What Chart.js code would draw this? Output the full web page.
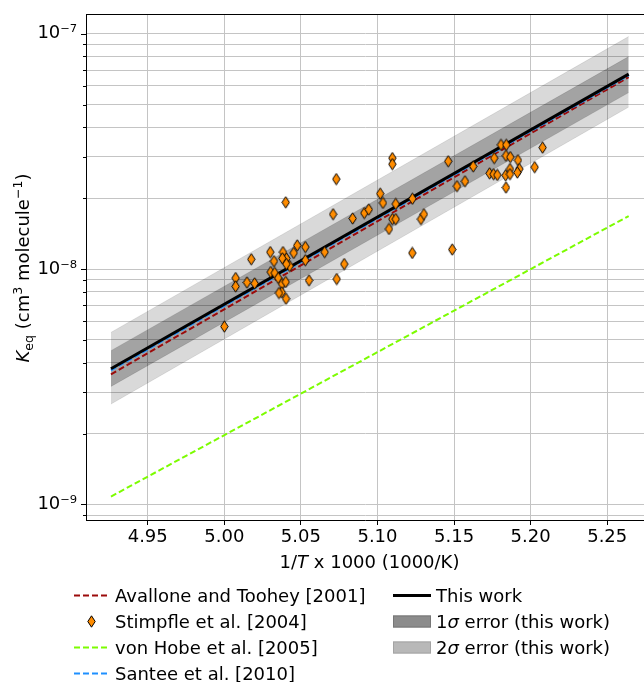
<!DOCTYPE html>
<html><head><meta charset="utf-8">
<script src="https://cdn.jsdelivr.net/npm/chart.js@4.4.1/dist/chart.umd.min.js"></script>
<style>html,body{margin:0;padding:0;background:#fff;}#wrap{width:644px;height:682px;position:relative;}</style>
</head><body><div id="wrap"><canvas id="c" width="644" height="682"></canvas></div>
<script>
// ---- data ----
const X_TICKS = [4.95, 5.00, 5.05, 5.10, 5.15, 5.20, 5.25];
const Y_TICKS = [9e-10, 1e-9, 2e-9, 3e-9, 4e-9, 5e-9, 6e-9, 7e-9, 8e-9, 9e-9,
                 1e-8, 2e-8, 3e-8, 4e-8, 5e-8, 6e-8, 7e-8, 8e-8, 9e-8, 1e-7];
const X_RANGE = [4.9097, 5.2740];
const Y_RANGE = [8.586e-10, 1.2121e-7];

const FIT_X = [4.926, 5.264];            // 1000/203 K ... 1000/190 K
const THIS_WORK    = [3.77e-9, 6.73e-8];
const SIGMA1_UPPER = [4.50e-9, 7.99e-8];
const SIGMA1_LOWER = [3.17e-9, 5.62e-8];
const SIGMA2_UPPER = [5.38e-9, 9.72e-8];
const SIGMA2_LOWER = [2.67e-9, 4.88e-8];
const AVALLONE     = [3.57e-9, 6.54e-8];
const SANTEE       = [3.71e-9, 6.65e-8];
const VON_HOBE     = [1.08e-9, 1.68e-8];

const STIMPFLE_X = [5.1097, 5.1097, 5.0731, 5.0401, 5.1018, 5.1036, 5.1119, 5.1228, 5.0710, 5.0838,
  5.0914, 5.0943, 5.1097, 5.1119, 5.1075, 5.1284, 5.1227, 5.0655, 5.0783, 5.0734,
  5.0553, 5.0529, 5.0529, 5.0476, 5.0453, 5.0427, 5.0405, 5.0383, 5.0379, 5.0405,
  5.0300, 5.0324, 5.0303, 5.0329, 5.0352, 5.0377, 5.0401, 5.0375, 5.0357, 5.0403,
  5.0176, 5.0198, 5.0148, 5.0074, 5.0074, 5.0000,
  5.1806, 5.1841, 5.2078, 5.1462, 5.1762, 5.1839, 5.1867, 5.1917, 5.1625, 5.1865,
  5.1926, 5.1913, 5.1732, 5.1758, 5.1782, 5.1837, 5.1865, 5.2026, 5.1839, 5.1571,
  5.1519, 5.1303, 5.1488];
const STIMPFLE_Y = [2.96e-8, 2.79e-8, 2.41e-8, 1.92e-8, 2.09e-8, 1.91e-8, 1.89e-8, 1.99e-8, 1.71e-8, 1.64e-8,
  1.73e-8, 1.79e-8, 1.63e-8, 1.63e-8, 1.48e-8, 1.63e-8, 1.17e-8, 1.18e-8, 1.05e-8, 9.07e-9,
  8.95e-9, 1.24e-8, 1.09e-8, 1.26e-8, 1.17e-8, 1.03e-8, 1.11e-8, 1.18e-8, 1.11e-8, 1.05e-8,
  1.18e-8, 1.08e-8, 9.71e-9, 9.62e-9, 9.16e-9, 8.64e-9, 8.81e-9, 7.96e-9, 7.91e-9, 7.48e-9,
  1.10e-8, 8.69e-9, 8.77e-9, 9.16e-9, 8.44e-9, 5.70e-9,
  3.37e-8, 3.37e-8, 3.28e-8, 2.87e-8, 2.96e-8, 3.03e-8, 2.99e-8, 2.90e-8, 2.73e-8, 2.66e-8,
  2.66e-8, 2.57e-8, 2.55e-8, 2.53e-8, 2.51e-8, 2.50e-8, 2.53e-8, 2.71e-8, 2.22e-8, 2.36e-8,
  2.25e-8, 1.71e-8, 1.21e-8];

const LEGEND_LEFT = ['Avallone and Toohey [2001]', 'Stimpfle et al. [2004]', 'von Hobe et al. [2005]', 'Santee et al. [2010]'];

// ---- helpers ----
const FONT = 'DejaVu Sans';
const FS = 18;
const pts = (xs, ys) => xs.map((x, i) => ({x: x, y: ys[i]}));
const isDecade = v => Math.abs(Math.log10(v) - Math.round(Math.log10(v))) < 1e-6;
const SUP = {'0':'⁰','1':'¹','2':'²','3':'³','4':'⁴','5':'⁵','6':'⁶','7':'⁷','8':'⁸','9':'⁹','-':'⁻'};
const supStr = s => s.split('').map(ch => SUP[ch] || ch).join('');

const diamond = (() => {
  const c = document.createElement('canvas'); c.width = 9; c.height = 13;
  const g = c.getContext('2d');
  g.beginPath(); g.moveTo(4.5, 0.8); g.lineTo(8.2, 6.5); g.lineTo(4.5, 12.2); g.lineTo(0.8, 6.5); g.closePath();
  g.fillStyle = '#ff8c00'; g.fill(); g.lineWidth = 1; g.strokeStyle = '#000'; g.stroke();
  return c;
})();

function drawRuns(ctx, runs, x, y, align) {
  let total = 0;
  runs.forEach(r => { ctx.font = r.font; r.w = ctx.measureText(r.t).width; total += r.w; });
  let cx = align === 'center' ? x - total / 2 : x;
  ctx.textBaseline = 'alphabetic'; ctx.textAlign = 'left';
  runs.forEach(r => { ctx.font = r.font; ctx.fillText(r.t, cx, y + (r.dy || 0)); cx += r.w; });
}

const N = FS + 'px "' + FONT + '"', I = 'italic ' + FS + 'px "' + FONT + '"', S = '12.6px "' + FONT + '"';

const decor = {
  id: 'decor',
  afterDraw(chart) {
    const ctx = chart.ctx, a = chart.chartArea, ys = chart.scales.y;
    ctx.save();
    // top spine
    ctx.strokeStyle = '#000'; ctx.lineWidth = 1;
    ctx.beginPath(); ctx.moveTo(a.left, Math.round(a.top) + 0.5); ctx.lineTo(a.right, Math.round(a.top) + 0.5); ctx.stroke();
    // y tick marks (major / minor)
    ys.ticks.forEach(t => {
      const p = Math.round(ys.getPixelForValue(t.value)) + 0.5;
      const len = isDecade(t.value) ? 5 : 3;
      ctx.beginPath(); ctx.moveTo(a.left - len, p); ctx.lineTo(a.left, p); ctx.stroke();
    });
    ctx.fillStyle = '#000';
    // x title
    drawRuns(ctx, [{t: '1/', font: N}, {t: 'T', font: I}, {t: ' x 1000 (1000/K)', font: N}], 369.5, 567.5, 'center');
    // y title
    ctx.save();
    ctx.translate(29, 268); ctx.rotate(-Math.PI / 2);
    drawRuns(ctx, [{t: 'K', font: I}, {t: 'eq', font: S, dy: 4}, {t: ' (cm', font: N}, {t: '3', font: S, dy: -7.5},
      {t: ' molecule', font: N}, {t: '−1', font: S, dy: -7.5}, {t: ')', font: N}], 0, 0, 'center');
    ctx.restore();
    // legend
    const rows = [595.5, 621.5, 647.5, 673.5];
    const lx0 = 74, lx1 = 109, ltx = 115;
    const rx0 = 393, rx1 = 431, rtx = 436;
    const dashLine = (x0, x1, y, color, dash, w) => {
      ctx.save(); ctx.strokeStyle = color; ctx.lineWidth = w; ctx.setLineDash(dash);
      ctx.beginPath(); ctx.moveTo(x0, y); ctx.lineTo(x1, y); ctx.stroke(); ctx.restore();
    };
    dashLine(lx0, lx1, rows[0], '#9b0a0a', [6, 3], 2);
    ctx.drawImage(diamond, Math.round((lx0 + lx1) / 2 - 4.5), Math.round(rows[1] - 6.5));
    dashLine(lx0, lx1, rows[2], '#7cfc00', [6, 3], 2);
    dashLine(lx0, lx1, rows[3], '#1e90ff', [6, 3], 2);
    ctx.fillStyle = '#000';
    LEGEND_LEFT.forEach((t, i) => drawRuns(ctx, [{t: t, font: N}], ltx, rows[i] + 6.5, 'left'));
    dashLine(rx0, rx1, rows[0], '#000', [], 3);
    ctx.fillStyle = '#8c8c8c'; ctx.fillRect(rx0, rows[1] - 6, rx1 - rx0, 12);
    ctx.strokeStyle = '#777'; ctx.lineWidth = 1; ctx.strokeRect(rx0 + 0.5, rows[1] - 5.5, rx1 - rx0 - 1, 11);
    ctx.fillStyle = '#b8b8b8'; ctx.fillRect(rx0, rows[2] - 6, rx1 - rx0, 12);
    ctx.strokeStyle = '#a4a4a4'; ctx.strokeRect(rx0 + 0.5, rows[2] - 5.5, rx1 - rx0 - 1, 11);
    ctx.fillStyle = '#000';
    drawRuns(ctx, [{t: 'This work', font: N}], rtx, rows[0] + 6.5, 'left');
    drawRuns(ctx, [{t: '1', font: N}, {t: 'σ', font: I}, {t: ' error (this work)', font: N}], rtx, rows[1] + 6.5, 'left');
    drawRuns(ctx, [{t: '2', font: N}, {t: 'σ', font: I}, {t: ' error (this work)', font: N}], rtx, rows[2] + 6.5, 'left');
    ctx.restore();
  }
};

Chart.defaults.font.family = FONT;
Chart.defaults.font.size = FS;
Chart.defaults.color = '#000';

const GRID = '#c4c4c4';
new Chart(document.getElementById('c'), {
  type: 'line',
  data: {
    datasets: [
      {label: '2σ upper', data: pts(FIT_X, SIGMA2_UPPER), fill: '+1', backgroundColor: 'rgba(0,0,0,0.15)',
       borderColor: 'rgba(0,0,0,0.10)', borderWidth: 1, pointRadius: 0, order: 10},
      {label: '2σ lower', data: pts(FIT_X, SIGMA2_LOWER), fill: false,
       borderColor: 'rgba(0,0,0,0.10)', borderWidth: 1, pointRadius: 0, order: 10},
      {label: '1σ upper', data: pts(FIT_X, SIGMA1_UPPER), fill: '+1', backgroundColor: 'rgba(0,0,0,0.25)',
       borderColor: 'rgba(0,0,0,0.12)', borderWidth: 1, pointRadius: 0, order: 9},
      {label: '1σ lower', data: pts(FIT_X, SIGMA1_LOWER), fill: false,
       borderColor: 'rgba(0,0,0,0.12)', borderWidth: 1, pointRadius: 0, order: 9},
      {label: 'Avallone and Toohey [2001]', data: pts(FIT_X, AVALLONE), borderColor: '#9b0a0a', borderWidth: 2,
       borderDash: [6, 3], pointRadius: 0, fill: false, order: 5},
      {label: 'von Hobe et al. [2005]', data: pts(FIT_X, VON_HOBE), borderColor: '#7cfc00', borderWidth: 2,
       borderDash: [6, 3], pointRadius: 0, fill: false, order: 4},
      {label: 'Santee et al. [2010]', data: pts(FIT_X, SANTEE), borderColor: '#1e90ff', borderWidth: 2,
       borderDash: [6, 3], pointRadius: 0, fill: false, order: 3},
      {label: 'This work', data: pts(FIT_X, THIS_WORK), borderColor: '#000', borderWidth: 3,
       pointRadius: 0, fill: false, order: 2},
      {label: 'Stimpfle et al. [2004]', data: pts(STIMPFLE_X, STIMPFLE_Y), showLine: false,
       pointStyle: diamond, pointRadius: 5, fill: false, order: 1}
    ]
  },
  options: {
    responsive: false, animation: false, devicePixelRatio: 1,
    layout: {autoPadding: false, padding: {top: 14, right: 0, bottom: 0, left: 0}},
    plugins: {legend: {display: false}, tooltip: {enabled: false}},
    scales: {
      x: {
        type: 'linear', min: X_RANGE[0], max: X_RANGE[1],
        afterBuildTicks: s => { s.ticks = X_TICKS.map(v => ({value: v})); },
        afterFit: s => { s.height = 162; s.paddingLeft = 0; s.paddingRight = 0; },
        ticks: {autoSkip: false, maxRotation: 0, padding: 2, color: '#000', font: {size: FS},
                callback: v => Number(v).toFixed(2)},
        grid: {color: GRID, lineWidth: 1, drawTicks: true, tickLength: 5, tickColor: '#000'},
        border: {display: true, color: '#000', width: 1}
      },
      y: {
        type: 'logarithmic', min: Y_RANGE[0], max: Y_RANGE[1],
        afterBuildTicks: s => { s.ticks = Y_TICKS.map(v => ({value: v, major: isDecade(v)})); },
        afterFit: s => { s.width = 86; s.paddingTop = 0; s.paddingBottom = 0; },
        ticks: {autoSkip: false, padding: 9, color: '#000', font: {size: FS},
                callback: v => isDecade(v) ? '10' + supStr(String(Math.round(Math.log10(v)))) : ''},
        grid: {color: GRID, lineWidth: 1, drawTicks: false},
        border: {display: true, color: '#000', width: 1}
      }
    }
  },
  plugins: [decor]
});
</script></body></html>
